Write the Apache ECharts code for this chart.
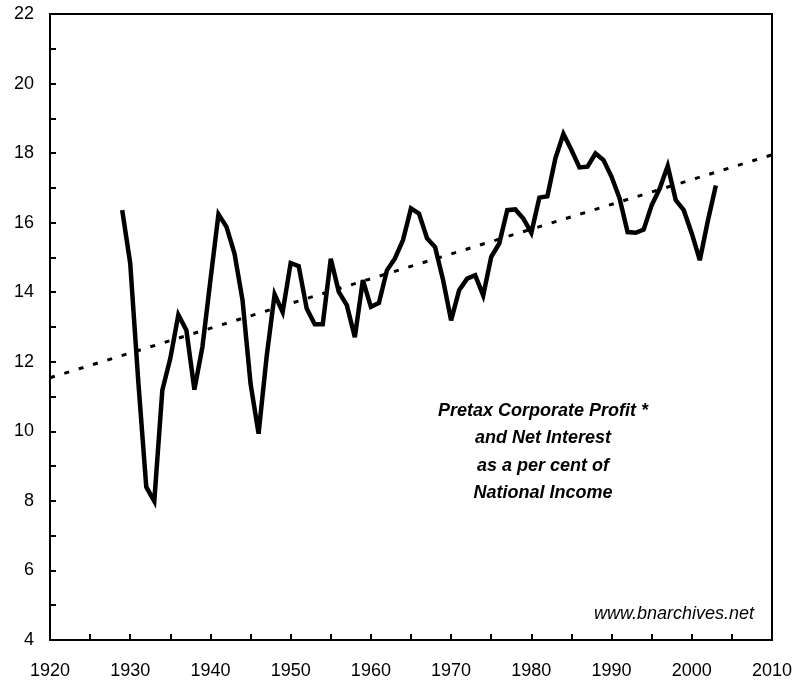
<!DOCTYPE html>
<html>
<head>
<meta charset="utf-8">
<script src="https://cdn.jsdelivr.net/npm/echarts@6/dist/echarts.min.js"></script>
<style>
  html, body { margin: 0; padding: 0; background: #fff; }
  #main { width: 798px; height: 683px; }
</style>
</head>
<body>
<div id="main"></div>
<script>
// 年份与数值
var years = [1929, 1930, 1931, 1932, 1933, 1934, 1935, 1936, 1937, 1938,
    1939, 1940, 1941, 1942, 1943, 1944, 1945, 1946, 1947, 1948,
    1949, 1950, 1951, 1952, 1953, 1954, 1955, 1956, 1957, 1958,
    1959, 1960, 1961, 1962, 1963, 1964, 1965, 1966, 1967, 1968,
    1969, 1970, 1971, 1972, 1973, 1974, 1975, 1976, 1977, 1978,
    1979, 1980, 1981, 1982, 1983, 1984, 1985, 1986, 1987, 1988,
    1989, 1990, 1991, 1992, 1993, 1994, 1995, 1996, 1997, 1998,
    1999, 2000, 2001, 2002, 2003];
var shareValues = [16.36, 14.83, 11.45, 8.40, 7.99, 11.18, 12.1, 13.35, 12.91, 11.2,
    12.43, 14.35, 16.24, 15.88, 15.11, 13.77, 11.37, 9.93, 12.14, 13.94,
    13.43, 14.84, 14.75, 13.53, 13.08, 13.08, 14.96, 14.01, 13.63, 12.71,
    14.35, 13.58, 13.69, 14.63, 14.97, 15.50, 16.41, 16.26, 15.55, 15.30,
    14.35, 13.19, 14.06, 14.39, 14.49, 13.91, 15.02, 15.40, 16.36, 16.38,
    16.12, 15.71, 16.72, 16.76, 17.85, 18.55, 18.09, 17.59, 17.61, 17.99,
    17.80, 17.32, 16.70, 15.73, 15.71, 15.80, 16.50, 16.98, 17.63, 16.65,
    16.36, 15.69, 14.92, 16.05, 17.07];
// 趋势线端点
var trendYears = [1920, 2010];
var trendValues = [11.54, 17.95];
var noteLines = ['Pretax Corporate Profit *', 'and Net Interest', 'as a per cent of', 'National Income'];

var shareData = [];
for (var i = 0; i < years.length; i++) {
    shareData.push([years[i], shareValues[i]]);
}
var trendData = [];
for (var j = 0; j < trendYears.length; j++) {
    trendData.push([trendYears[j], trendValues[j]]);
}

var chart = echarts.init(document.getElementById('main'));
var option = {
    backgroundColor: '#fff',
    animation: false,
    grid: {
        left: 50,
        top: 14,
        right: 26,
        bottom: 43,
        show: true,
        borderColor: '#000',
        borderWidth: 2
    },
    xAxis: {
        type: 'value',
        min: 1920,
        max: 2010,
        interval: 5,
        splitLine: { show: false },
        axisLine: { lineStyle: { color: '#000', width: 2 } },
        axisTick: { inside: true, length: 6, lineStyle: { color: '#000', width: 2 } },
        axisLabel: {
            margin: 22,
            color: '#000',
            fontSize: 18,
            fontFamily: 'Liberation Sans, Arial, sans-serif',
            formatter: function (v) {
                return v % 10 === 0 ? String(v) : '';
            }
        }
    },
    yAxis: {
        type: 'value',
        min: 4,
        max: 22,
        interval: 1,
        splitLine: { show: false },
        axisLine: { lineStyle: { color: '#000', width: 2 } },
        axisTick: { inside: true, length: 6, lineStyle: { color: '#000', width: 2 } },
        axisLabel: {
            margin: 16,
            color: '#000',
            fontSize: 18,
            fontFamily: 'Liberation Sans, Arial, sans-serif',
            formatter: function (v) {
                return v % 2 === 0 ? String(v) : '';
            }
        }
    },
    graphic: [{
        type: 'text',
        x: 543,
        y: 397.5,
        style: {
            text: noteLines.join('\n'),
            align: 'center',
            verticalAlign: 'top',
            fill: '#000',
            font: 'italic bold 18px "Liberation Sans", Arial, sans-serif',
            lineHeight: 27.3
        }
    }, {
        type: 'text',
        x: 754,
        y: 614,
        style: {
            text: 'www.bnarchives.net',
            align: 'right',
            verticalAlign: 'middle',
            fill: '#000',
            font: 'italic 18px "Liberation Sans", Arial, sans-serif'
        }
    }],
    series: [{
        type: 'line',
        data: trendData,
        symbol: 'none',
        silent: true,
        lineStyle: { color: '#000', width: 3, type: [5, 10] }
    }, {
        type: 'line',
        data: shareData,
        symbol: 'none',
        silent: true,
        lineStyle: { color: '#000', width: 4.5, join: 'miter', miterLimit: 4 }
    }]
};
chart.setOption(option);
</script>
</body>
</html>
